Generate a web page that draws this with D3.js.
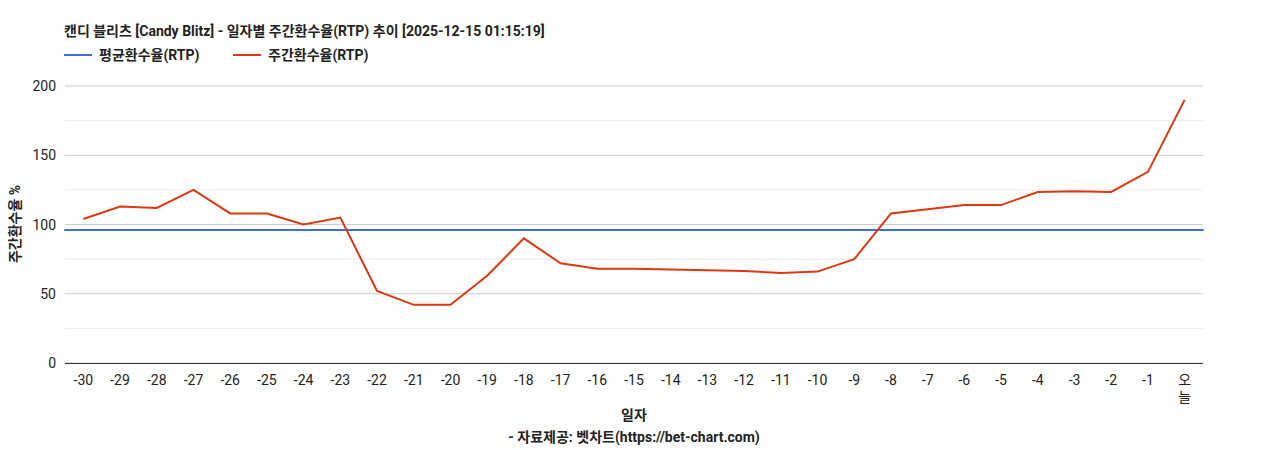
<!DOCTYPE html>
<html><head><meta charset="utf-8">
<script src="https://cdn.jsdelivr.net/npm/d3@7"></script>
<style>body{margin:0;background:#fff;font-family:Roboto,"Noto Sans CJK KR",sans-serif}</style>
</head><body><svg id="c" width="1268" height="450"></svg>
<script>
const categories=["-30","-29","-28","-27","-26","-25","-24","-23","-22","-21","-20","-19","-18","-17","-16","-15","-14","-13","-12","-11","-10","-9","-8","-7","-6","-5","-4","-3","-2","-1","오늘"];
const weekly=[104,113,112,125,108,108,100,105,52,42,42,63,90,72,68,68,67.5,67,66.5,65,66,75,108,111,114,114,123.5,124,123.5,138,190];
const avgRTP=96;
const yTicks=[0,50,100,150,200];
const title="캔디 블리츠 [Candy Blitz] - 일자별 주간환수율(RTP) 추이 [2025-12-15 01:15:19]";
const svg=d3.select("#c");
const font='Roboto,"Noto Sans CJK KR",sans-serif';
const L=65,R=1203,T=86,B=363;
const x=d3.scaleBand().domain(categories).range([L,R]);
const y=d3.scaleLinear().domain([0,200]).range([B,T]);
d3.range(0,201,25).forEach(v=>{
  svg.append("line").attr("x1",L).attr("x2",R).attr("y1",y(v)).attr("y2",y(v))
   .attr("stroke",v%50===0?"#cccccc":"#ebebeb").attr("stroke-width",1);
});
svg.append("line").attr("x1",L).attr("x2",R).attr("y1",B+0.5).attr("y2",B+0.5).attr("stroke","#333");
yTicks.forEach(v=>svg.append("text").attr("x",L-9).attr("y",y(v)+5).attr("text-anchor","end")
  .attr("font-size",14).attr("font-family",font).attr("fill","#222").text(v));
categories.forEach(c=>{
  const t=svg.append("text").attr("x",x(c)+x.bandwidth()/2).attr("y",B+22).attr("text-anchor","middle")
   .attr("font-size",14).attr("font-family",font).attr("fill","#222");
  if(c==="오늘"){t.append("tspan").attr("x",x(c)+x.bandwidth()/2).text("오");
    t.append("tspan").attr("x",x(c)+x.bandwidth()/2).attr("dy",17).text("늘");}
  else t.text(c);
});
const cx=c=>x(c)+x.bandwidth()/2;
svg.append("line").attr("x1",cx(categories[0])-19).attr("x2",cx(categories[30])+19)
  .attr("y1",y(avgRTP)).attr("y2",y(avgRTP)).attr("stroke","#3e6fd8").attr("stroke-width",2);
svg.append("path").datum(weekly).attr("fill","none").attr("stroke","#dc3912").attr("stroke-width",2)
  .attr("d",d3.line().x((d,i)=>cx(categories[i])).y(d=>y(d)));
svg.append("text").attr("x",64).attr("y",36).attr("font-size",14).attr("font-weight","bold").attr("font-family",font).attr("fill","#222").text(title);
svg.append("line").attr("x1",64).attr("x2",92).attr("y1",55).attr("y2",55).attr("stroke","#3e6fd8").attr("stroke-width",2);
svg.append("text").attr("x",99).attr("y",60).attr("font-size",14).attr("font-weight","bold").attr("font-family",font).attr("fill","#222").text("평균환수율(RTP)");
svg.append("line").attr("x1",233).attr("x2",261).attr("y1",55).attr("y2",55).attr("stroke","#dc3912").attr("stroke-width",2);
svg.append("text").attr("x",268).attr("y",60).attr("font-size",14).attr("font-weight","bold").attr("font-family",font).attr("fill","#222").text("주간환수율(RTP)");
svg.append("text").attr("x",634).attr("y",420).attr("text-anchor","middle").attr("font-size",14).attr("font-weight","bold").attr("font-family",font).attr("fill","#222").text("일자");
svg.append("text").attr("x",634).attr("y",442).attr("text-anchor","middle").attr("font-size",14).attr("font-weight","bold").attr("font-family",font).attr("fill","#222").text("- 자료제공: 벳차트(https://bet-chart.com)");
svg.append("text").attr("transform","translate(20,224) rotate(-90)").attr("text-anchor","middle").attr("font-size",14).attr("font-weight","bold").attr("font-family",font).attr("fill","#222").text("주간환수율 %");
</script></body></html>
